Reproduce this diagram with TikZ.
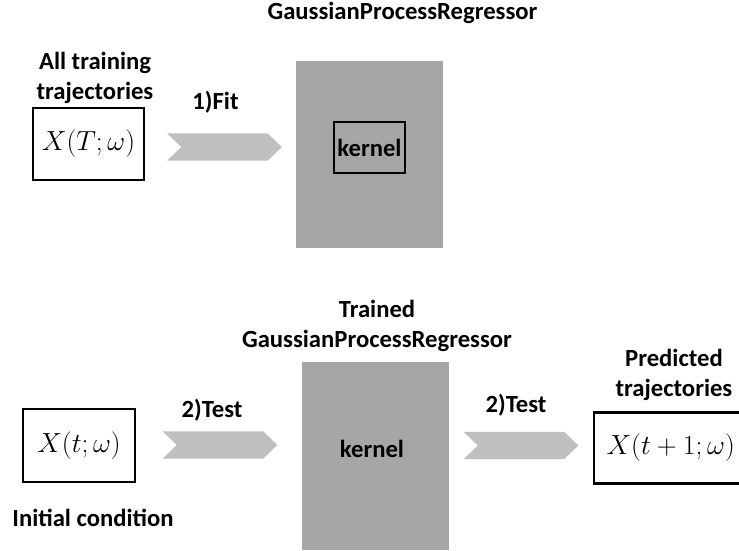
\documentclass[tikz,border=0pt]{standalone}
\usepackage{fontspec}
\setmainfont{Carlito}
\usepackage{tikz}
\usetikzlibrary{positioning,shapes.symbols}
\definecolor{gprgray}{HTML}{A6A6A6}
\definecolor{chevgray}{HTML}{BFBFBF}

\begin{document}
\begin{tikzpicture}[x=0.75pt, y=-0.75pt, font=\fontsize{18.5}{22.5}\selectfont\bfseries, node distance=4pt]
\tikzset{databox/.style={draw=black, line width=1.8pt, inner sep=1pt, font=\fontsize{22}{26}\selectfont}, gpr/.style={fill=gprgray, draw=none, minimum width=110.25pt}, chev/.style={shape=signal, signal from=west, signal to=east, signal pointer angle=88, fill=chevgray, draw=none, minimum width=86pt, minimum height=20.5pt, inner sep=0pt}, lbl/.style={align=center, inner sep=0pt}}
\useasboundingbox[fill=white] (0,0) rectangle (739,550);
% top row: fitting
\node[lbl] (title) at (402.5,13) {GaussianProcessRegressor};
\node[databox, minimum width=83.25pt, minimum height=54pt] (trainbox) at (88.5,144) {$X(T;\omega)$};
\node[lbl] (trainlbl) at (95,78) {All training\\trajectories};
\node[chev] (fitchev) at (224.5,147) {};
\node[lbl] (fitlbl) at (215.5,102) {1)Fit};
\node[gpr, minimum height=140.25pt] (gprtop) at (369.5,154.5) {};
\node[draw=black, line width=0.8pt, minimum width=53.25pt, minimum height=38.25pt, inner sep=0pt] (kernelbox) at (369.5,147.5) {kernel};
% bottom row: testing
\node[databox, minimum width=84pt, minimum height=54.75pt] (testbox) at (79,445.5) {$X(t;\omega)$};
\node[lbl] (initlbl) at (93,518) {Initial condition};
\node[chev] (testchevA) at (220,445) {};
\node[lbl] (testlblA) at (212,410) {2)Test};
\node[gpr, minimum height=141pt] (gprbot) at (375.5,456) {};
\node[lbl] (kernel) at (372,449) {kernel};
\node[lbl] (trainedlbl) at (377,326) {Trained\\GaussianProcessRegressor};
\node[chev] (testchevB) at (521,445.5) {};
\node[lbl] (testlblB) at (516,405) {2)Test};
\node[databox, font=\fontsize{22.5}{27}\selectfont, inner sep=3.5pt, minimum width=114.75pt, minimum height=53.25pt, anchor=west] (predbox) at (593,448) {$X(t+1;\omega)$};
\node[lbl] (predlbl) at (674,375) {Predicted\\trajectories};
\end{tikzpicture}
\end{document}
